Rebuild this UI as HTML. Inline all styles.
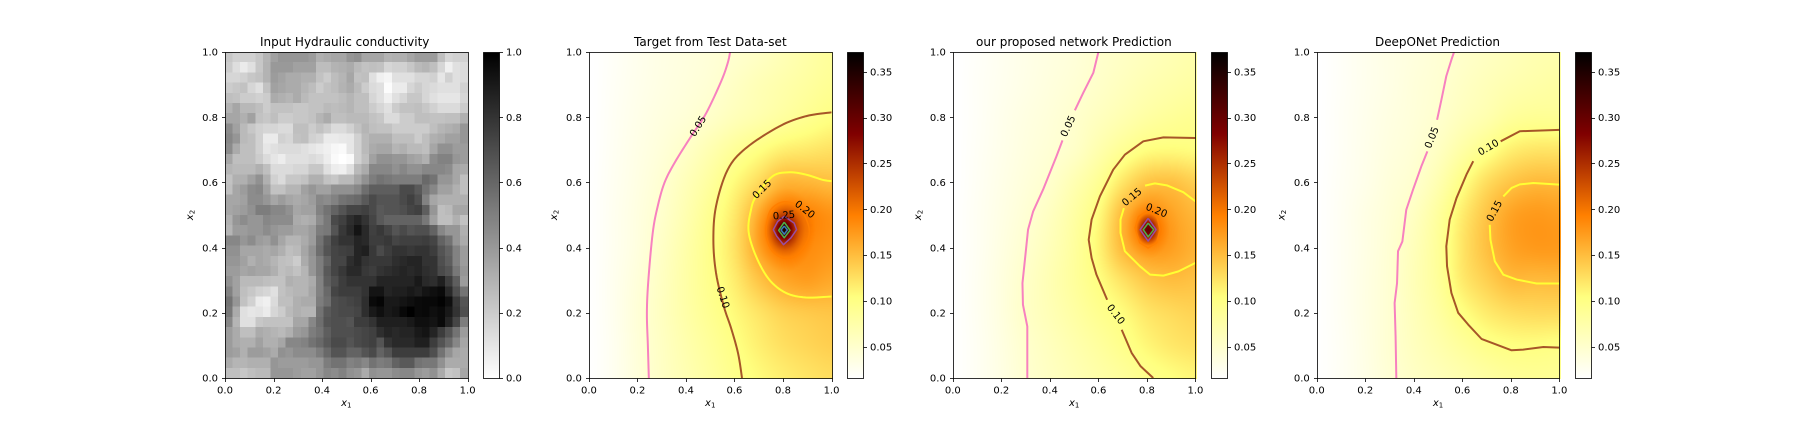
<!DOCTYPE html>
<html lang="en">
<head>
<meta charset="utf-8">
<title>Hydraulic conductivity predictions</title>
<style>
html,body{margin:0;padding:0;background:#fff;width:1800px;height:432px;overflow:hidden}
#figure{position:relative;width:1800px;height:432px;background:#fff;overflow:hidden;filter:blur(0.3px)}
#figure canvas{position:absolute;display:block}
#overlay{position:absolute;left:0;top:0}
text{font-family:"DejaVu Sans","Liberation Sans",sans-serif;fill:#000}
</style>
</head>
<body>
<div id="figure">
<svg id="overlay" width="1800" height="432" viewBox="0 0 1800 432" xmlns="http://www.w3.org/2000/svg"></svg>
</div>
<script>
// ---------- data ----------
const panelTitles = ["Input Hydraulic conductivity","Target from Test Data-set","our proposed network Prediction","DeepONet Prediction"];
const titleStarts = [260,634,976,1375];
const titleLengths = [169.4,152.7,195.7,125];
const axisTicks = [0,0.2,0.4,0.6,0.8,1.0];
const axisTickLabels = ["0.0","0.2","0.4","0.6","0.8","1.0"];
const grayBarTicks = [0,0.2,0.4,0.6,0.8,1.0];
const grayBarLabels = ["0.0","0.2","0.4","0.6","0.8","1.0"];
const fieldBarTicks = [0.05,0.10,0.15,0.20,0.25,0.30,0.35];
const fieldBarLabels = ["0.05","0.10","0.15","0.20","0.25","0.30","0.35"];
const fieldMin = 0.0158;
const fieldMax = 0.3715;
const levelColors = {"0.05":"#f781bf","0.10":"#a65628","0.15":"#ffff33","0.20":"#ff7f00","0.25":"#984ea3","0.30":"#4daf4a","0.35":"#377eb8"};

// conductivity in percent, top row first (y = 1 down to y = 0)
const conductivity = [
[22,18,18,18,22,29,37,41,41,41,41,39,31,33,35,35,41,43,35,35,35,30,31,31,35,39,39,39,25,16,18,18],
[20,13,8,12,22,30,40,40,40,37,37,37,26,26,30,31,33,27,24,25,24,16,18,18,22,27,29,25,16,6,12,14],
[16,16,18,22,24,30,39,36,33,33,31,31,24,20,26,29,35,24,25,12,6,4,12,12,12,16,16,18,10,18,12,14],
[20,22,24,16,12,24,37,35,33,33,29,26,20,24,26,30,33,27,20,14,12,1,8,8,16,20,16,14,12,12,12,18],
[25,24,20,20,18,20,33,31,29,33,27,24,24,24,24,26,29,25,25,16,12,6,12,16,22,22,16,12,10,10,10,16],
[30,35,28,28,25,20,24,24,24,22,22,24,24,27,26,27,29,25,25,20,16,12,20,24,24,25,22,18,14,14,14,20],
[35,35,31,37,24,22,25,20,20,22,22,24,29,33,25,25,27,27,27,24,22,14,14,20,20,25,25,24,24,25,25,31],
[45,37,27,22,18,16,16,14,14,25,25,20,24,20,14,14,18,24,29,25,24,24,20,20,20,20,20,25,29,31,33,41],
[47,41,27,25,18,8,8,18,16,24,25,18,16,8,8,9,10,18,27,31,31,31,25,25,25,20,25,31,33,37,37,41],
[45,33,25,25,18,10,12,14,14,14,12,10,8,6,3,2,10,18,27,33,35,35,29,31,27,27,25,35,43,43,39,39],
[35,25,25,25,20,14,10,7,12,12,12,14,12,7,2,0,2,18,25,37,43,43,41,41,37,35,31,45,49,49,41,39],
[29,27,27,27,31,25,14,14,14,16,16,22,22,12,7,6,12,27,33,47,47,47,43,47,43,43,47,47,47,45,35,33],
[24,31,31,37,43,31,18,14,22,22,24,31,31,24,22,27,27,35,43,51,55,53,51,51,51,51,59,55,41,41,35,25],
[25,35,39,45,47,37,24,24,29,29,37,41,37,37,43,43,43,47,57,63,63,63,63,71,71,65,55,47,37,37,31,25],
[35,35,37,45,45,41,35,39,35,33,35,39,47,45,49,55,57,59,65,71,67,67,67,71,75,69,49,35,31,31,31,31],
[35,37,39,43,51,51,47,47,43,35,37,37,49,55,61,67,73,73,75,71,65,67,67,69,73,75,63,41,25,27,35,35],
[31,41,45,41,41,47,45,45,45,33,31,33,45,53,71,75,82,86,80,73,65,61,61,61,61,61,53,37,25,25,31,24],
[29,39,39,41,41,45,41,39,39,35,35,39,51,53,67,78,84,92,84,75,78,73,67,71,67,69,69,61,47,41,41,31],
[47,47,41,45,39,37,43,35,29,29,33,39,55,65,75,80,80,86,84,76,76,78,73,75,75,75,76,73,61,55,41,33],
[43,43,35,35,35,33,35,31,25,27,35,43,57,67,73,75,76,86,88,78,71,76,80,80,78,80,80,76,67,61,49,39],
[41,41,37,31,35,33,29,25,24,20,33,41,51,61,73,73,82,86,80,78,78,78,82,84,86,86,80,80,69,63,49,39],
[39,39,35,37,35,35,31,25,27,24,29,41,51,65,73,78,84,84,78,76,80,82,84,86,84,86,82,80,71,67,53,41],
[43,37,27,27,27,25,24,24,31,29,29,33,49,63,69,76,80,80,80,80,86,86,86,86,86,90,84,82,88,76,63,39],
[49,37,25,22,18,16,12,24,27,29,29,35,49,59,73,76,76,76,80,92,92,86,88,88,90,88,92,94,96,84,69,55],
[55,41,24,18,8,6,14,25,25,31,33,33,51,57,69,71,73,75,82,96,98,90,90,92,94,96,97,97,99,94,78,67],
[53,33,12,10,11,8,16,20,27,31,29,29,55,65,69,71,71,73,82,90,94,90,92,97,100,96,97,94,96,90,80,69],
[47,29,12,12,22,24,24,24,24,35,35,47,57,67,69,69,67,76,76,80,88,88,88,88,90,94,94,92,96,86,73,51],
[39,33,25,25,33,31,29,27,31,39,41,51,55,63,69,69,69,71,73,75,82,86,84,86,86,90,92,86,76,67,55,39],
[39,33,31,31,37,31,31,35,47,47,49,55,59,65,71,71,67,71,73,75,67,80,84,84,84,88,88,76,67,59,47,35],
[39,37,31,39,39,37,33,43,41,45,45,45,51,59,67,67,61,61,67,71,61,67,76,76,76,76,76,69,55,43,35,33],
[33,29,29,31,31,31,41,39,39,39,39,41,41,51,55,55,49,51,47,55,51,53,61,65,65,55,53,53,43,33,33,33],
[25,25,22,25,27,27,41,41,41,39,37,37,41,47,45,49,43,41,33,43,41,41,45,47,47,41,39,43,33,22,24,35]
];

// field samples: rows y = 0, 0.1 ... 1; columns x = 0, 0.1 ... 1
const targetField = [
[.016,.026,.041,.056,.069,.082,.096,.107,.116,.123,.128],
[.016,.026,.042,.057,.072,.086,.101,.115,.126,.133,.138],
[.016,.027,.043,.059,.076,.092,.108,.123,.136,.142,.145],
[.016,.027,.041,.058,.077,.096,.117,.145,.165,.172,.165],
[.016,.026,.038,.055,.075,.097,.124,.165,.185,.185,.178],
[.016,.026,.037,.051,.070,.093,.12,.16,.185,.19,.18],
[.016,.025,.035,.047,.064,.083,.107,.130,.155,.155,.15],
[.015,.024,.033,.042,.054,.07,.087,.102,.115,.12,.125],
[.015,.023,.031,.038,.044,.053,.064,.073,.083,.093,.102],
[.015,.022,.029,.035,.040,.046,.056,.066,.074,.082,.09],
[.015,.021,.028,.034,.038,.043,.049,.056,.066,.076,.085]
];
const proposedField = [
[.016,.024,.035,.048,.058,.067,.076,.085,.096,.104,.11],
[.016,.024,.036,.05,.061,.072,.083,.096,.11,.12,.125],
[.016,.025,.038,.054,.066,.079,.093,.106,.122,.13,.135],
[.016,.025,.038,.053,.068,.084,.103,.125,.143,.15,.147],
[.016,.024,.036,.049,.064,.083,.111,.152,.168,.17,.158],
[.016,.024,.034,.045,.059,.079,.106,.152,.175,.168,.155],
[.015,.023,.032,.041,.051,.069,.09,.122,.145,.148,.138],
[.015,.022,.030,.038,.045,.054,.072,.09,.104,.107,.105],
[.015,.021,.029,.036,.042,.05,.06,.07,.08,.087,.092],
[.015,.021,.027,.033,.039,.045,.053,.061,.069,.075,.08],
[.015,.02,.026,.032,.037,.042,.05,.056,.062,.068,.074]
];
const deepOnetField = [
[.016,.023,.033,.045,.056,.064,.072,.08,.087,.09,.09],
[.016,.023,.034,.047,.06,.072,.085,.097,.103,.104,.102],
[.016,.024,.035,.047,.063,.08,.102,.118,.127,.13,.13],
[.016,.024,.035,.047,.065,.086,.118,.137,.152,.152,.153],
[.016,.024,.034,.046,.063,.087,.122,.148,.168,.175,.175],
[.016,.024,.034,.044,.058,.083,.117,.145,.168,.175,.172],
[.016,.023,.031,.041,.05,.07,.10,.128,.145,.153,.152],
[.015,.022,.03,.038,.045,.058,.078,.097,.115,.122,.122],
[.015,.022,.029,.036,.042,.05,.062,.072,.085,.09,.09],
[.015,.021,.028,.034,.041,.047,.056,.064,.071,.076,.08],
[.015,.021,.028,.034,.039,.045,.052,.058,.064,.07,.073]
];

// sharp well response: extra value against distance from the well
const wellLocation = [0.805,0.455];
const targetWellRadius = [0,.012,.025,.045,.065,.085,.13];
const targetWellGain = [.17,.15,.10,.055,.028,.012,0];
const proposedWellRadius = [0,.015,.032,.05,.09,.13];
const proposedWellGain = [.13,.11,.065,.02,.004,0];

// contour lines: level, then runs of [x, y] in data coordinates
const targetContours = [
["0.05",[[.247,0],[.243,.1],[.239,.2],[.245,.3],[.263,.445],[.283,.525],[.311,.598],[.353,.66],[.421,.741],[.483,.812],[.545,.91],[.572,.966],[.582,1]]],
["0.10",[[.631,0],[.615,.075],[.586,.153],[.556,.22],[.524,.322],[.513,.424],[.524,.527],[.572,.639],[.647,.705],[.785,.772],[.894,.803],[1,.815]]],
["0.15",[[1,.25],[.894,.247],[.812,.261],[.743,.302],[.689,.373],[.658,.45],[.668,.516],[.689,.557],[.757,.619],[.826,.631],[.894,.624],[.963,.608],[1,.604]]],
["0.20",[[.73,.46],[.745,.51],[.78,.535],[.82,.54],[.865,.525],[.9,.48],[.908,.44],[.885,.40],[.845,.372],[.80,.368],[.755,.39],[.733,.43],[.73,.46]]],
["0.25",[[.805,.496],[.846,.475],[.856,.455],[.833,.43],[.802,.409],[.774,.435],[.76,.455],[.778,.48],[.805,.496]]],
["0.30",[[.805,.478],[.829,.453],[.805,.43],[.782,.453],[.805,.478]]],
["0.35",[[.805,.466],[.818,.454],[.805,.441],[.792,.454],[.805,.466]]]
];
const proposedContours = [
["0.05",[[.307,0],[.307,.158],[.289,.225],[.287,.291],[.30,.383],[.31,.455],[.331,.511],[.372,.578],[.427,.68],[.452,.729]]],
["0.05",[[.503,.821],[.537,.874],[.579,.936],[.60,1]]],
["0.10",[[.826,0],[.774,.036],[.737,.077],[.696,.148]]],
["0.10",[[.636,.24],[.592,.317],[.572,.368],[.56,.424],[.572,.486],[.606,.557],[.661,.639],[.709,.685],[.785,.726],[.868,.738],[1,.736]]],
["0.15",[[1,.353],[.93,.327],[.868,.314],[.813,.317],[.771,.343],[.709,.389],[.691,.445],[.691,.486],[.705,.521]]],
["0.15",[[.792,.59],[.833,.597],[.882,.591],[.95,.57],[1,.542]]],
["0.20",[[.751,.46],[.765,.495],[.805,.515],[.84,.5],[.854,.455],[.84,.415],[.805,.399],[.77,.415],[.751,.46]]],
["0.25",[[.805,.49],[.838,.455],[.805,.42],[.772,.455],[.805,.49]]],
["0.30",[[.805,.475],[.828,.455],[.805,.433],[.785,.455],[.805,.475]]]
];
const deepOnetContours = [
["0.05",[[.328,0],[.325,.128],[.321,.23],[.331,.291],[.335,.389],[.353,.419],[.369,.516],[.397,.578],[.431,.649],[.456,.695]]],
["0.05",[[.496,.792],[.514,.854],[.534,.926],[.555,.976],[.566,1]]],
["0.10",[[1,.093],[.934,.095],[.851,.087],[.803,.085],[.679,.12],[.624,.164],[.583,.2],[.555,.261],[.537,.343],[.534,.404],[.548,.486],[.576,.552],[.617,.624],[.645,.665]]],
["0.10",[[.758,.726],[.837,.757],[1,.761]]],
["0.15",[[1,.29],[.906,.29],[.824,.302],[.769,.317],[.734,.358],[.716,.424],[.713,.47]]],
["0.15",[[.769,.557],[.803,.583],[.837,.594],[.893,.598],[1,.593]]]
];

// contour labels: text, x, y in data coordinates, rotation in degrees
const targetLabels = [["0.05",.4485,.773,-58],["0.10",.554,.2475,72],["0.15",.712,.58,-45],["0.20",.891,.518,38],["0.25",.804,.5,-5]];
const proposedLabels = [["0.05",.4736,.773,-65],["0.10",.673,.196,52],["0.15",.737,.556,-40],["0.20",.84,.515,22]];
const deepOnetLabels = [["0.05",.473,.738,-68],["0.10",.707,.708,-30],["0.15",.731,.513,-62]];

// ---------- layout ----------
const axisLefts = [225,588.91,952.83,1316.74];
const axisWidth = 242.62;
const axisTop = 52;
const axisBottom = 378;
const axisHeight = axisBottom - axisTop;
const barOffset = 257.81;
const barWidth = 16.3;
const NS = "http://www.w3.org/2000/svg";
const svg = document.getElementById("overlay");
const figure = document.getElementById("figure");
const defs = document.createElementNS(NS,"defs");
svg.appendChild(defs);

function make(tag,attrs,parent){
  const n = document.createElementNS(NS,tag);
  for(const k in attrs){ n.setAttribute(k,attrs[k]); }
  (parent||svg).appendChild(n);
  return n;
}
function snap(p){ return Math.round(p)+0.5; }
function afmhotR(v){
  const n = Math.min(1,Math.max(0,(v-fieldMin)/(fieldMax-fieldMin)));
  const t = 1-n;
  const c = x => Math.round(255*Math.min(1,Math.max(0,x)));
  return [c(2*t),c(2*t-0.5),c(2*t-1)];
}
function catmull(a,b,c,d,t){
  return 0.5*((2*b)+(-a+c)*t+(2*a-5*b+4*c-d)*t*t+(-a+3*b-3*c+d)*t*t*t);
}
function sampleGrid(g,x,y){
  const n = g.length-1;
  const m = g[0].length-1;
  const u = Math.min(m-1e-6,Math.max(0,x*m));
  const w = Math.min(n-1e-6,Math.max(0,y*n));
  const i = Math.floor(u), j = Math.floor(w);
  const tx = u-i, ty = w-j;
  const col = k => Math.min(m,Math.max(0,k));
  const row = k => Math.min(n,Math.max(0,k));
  const vals = [];
  for(let q=-1;q<=2;q++){
    const r = g[row(j+q)];
    vals.push(catmull(r[col(i-1)],r[col(i)],r[col(i+1)],r[col(i+2)],tx));
  }
  return catmull(vals[0],vals[1],vals[2],vals[3],ty);
}
function wellGain(rs,gs,r){
  for(let k=0;k<rs.length-1;k++){
    if(r<=rs[k+1]){
      const f = (r-rs[k])/(rs[k+1]-rs[k]);
      return gs[k]+(gs[k+1]-gs[k])*f;
    }
  }
  return 0;
}
function smoothRun(run){
  const out = [];
  const at = k => run[Math.min(run.length-1,Math.max(0,k))];
  for(let i=0;i<run.length-1;i++){
    for(let s=0;s<8;s++){
      const t = s/8;
      out.push([catmull(at(i-1)[0],at(i)[0],at(i+1)[0],at(i+2)[0],t),catmull(at(i-1)[1],at(i)[1],at(i+1)[1],at(i+2)[1],t)]);
    }
  }
  out.push(run[run.length-1]);
  return out;
}

function drawField(canvasName,left,grid,radii,gains){
  const c0 = Math.round(left);
  const w = Math.round(axisWidth)+1;
  const h = axisHeight+1;
  const cv = document.createElement("canvas");
  
  
  cv.width = w; cv.height = h;
  cv.style.left = c0+"px";
  cv.style.top = axisTop+"px";
  figure.insertBefore(cv,svg);
  const ctx = cv.getContext("2d");
  const img = ctx.createImageData(w,h);
  for(let py=0;py<h;py++){
    for(let px=0;px<w;px++){
      const x = (c0+px+0.5-left)/axisWidth;
      const y = (axisBottom-(axisTop+py+0.5))/axisHeight;
      let v = sampleGrid(grid,x,y);
      if(radii){
        const dx = x-wellLocation[0], dy = y-wellLocation[1];
        v += wellGain(radii,gains,Math.sqrt(dx*dx+dy*dy));
      }
      const rgb = afmhotR(v);
      const o = (py*w+px)*4;
      img.data[o]=rgb[0]; img.data[o+1]=rgb[1]; img.data[o+2]=rgb[2]; img.data[o+3]=255;
    }
  }
  ctx.putImageData(img,0,0);
}

// ---------- conductivity heatmap cells ----------
const cellGroup = make("g",{"shape-rendering":"crispEdges"});


conductivity.forEach((rowVals,r)=>{
  rowVals.forEach((val,c)=>{
    const x0 = axisLefts[0]+c/rowVals.length*axisWidth;
    const x1 = axisLefts[0]+(c+1)/rowVals.length*axisWidth;
    const y0 = axisTop+r/conductivity.length*axisHeight;
    const y1 = axisTop+(r+1)/conductivity.length*axisHeight;
    const g = Math.round(255*(1-val/100));
    const cell = make("rect",{x:x0,y:y0,width:x1-x0+0.5,height:y1-y0+0.5,fill:"rgb("+g+","+g+","+g+")"},cellGroup);
    
    
  });
});

// ---------- fields ----------
drawField("target-field-image",axisLefts[1],targetField,targetWellRadius,targetWellGain);
drawField("proposed-field-image",axisLefts[2],proposedField,proposedWellRadius,proposedWellGain);
drawField("deeponet-field-image",axisLefts[3],deepOnetField,null,null);

// ---------- contours ----------
function drawContours(panelIndex,contours,labels,smooth){
  const left = axisLefts[panelIndex];
  const clipId = "clip"+panelIndex;
  const clip = make("clipPath",{id:clipId},defs);
  make("rect",{x:left,y:axisTop,width:axisWidth,height:axisHeight},clip);
  contours.forEach(entry=>{
    const curved = smooth && entry[1].length>9;
    const run = curved ? smoothRun(entry[1]) : entry[1];
    const thick = entry[0]==="0.05"||entry[0]==="0.10"||entry[0]==="0.15";
    const pts = run.map(p=>(left+p[0]*axisWidth).toFixed(2)+","+(axisBottom-p[1]*axisHeight).toFixed(2)).join(" ");
    const line = make("polyline",{points:pts,fill:"none",stroke:levelColors[entry[0]],"stroke-width":thick?2:1.5,"stroke-linejoin":"round","clip-path":"url(#"+clipId+")"});
    
    
  });
  labels.forEach(entry=>{
    const lx = left+entry[1]*axisWidth;
    const ly = axisBottom-entry[2]*axisHeight;
    const t = make("text",{x:lx,y:ly+3.6,"font-size":10,"text-anchor":"middle",transform:"rotate("+entry[3]+" "+lx+" "+ly+")"});
    
    
    t.textContent = entry[0];
  });
}
drawContours(1,targetContours,targetLabels,true);
drawContours(2,proposedContours,proposedLabels,false);
drawContours(3,deepOnetContours,deepOnetLabels,false);

// ---------- axes ----------
function tickLine(x1,y1,x2,y2,name){
  const l = make("line",{x1:x1,y1:y1,x2:x2,y2:y2,stroke:"#000","stroke-width":0.8});
  
  
}
axisLefts.forEach((left,idx)=>{
  const frameL = snap(left), frameR = snap(left+axisWidth);
  const frame = make("rect",{x:frameL,y:axisTop+0.5,width:frameR-frameL,height:axisHeight,fill:"none",stroke:"#000","stroke-width":0.8});
  
  

  const title = make("text",{x:titleStarts[idx],y:46,"font-size":12,textLength:titleLengths[idx],lengthAdjust:"spacing"});
  
  
  title.textContent = panelTitles[idx];

  axisTicks.forEach((tv,i)=>{
    const px = snap(left+tv*axisWidth);
    tickLine(px,axisBottom+0.5,px,axisBottom+4,'x-tick');
    const xl = make("text",{x:left+tv*axisWidth,y:393.3,"font-size":10,"text-anchor":"middle"});
    
    
    xl.textContent = axisTickLabels[i];

    const py = snap(axisBottom-tv*axisHeight);
    tickLine(frameL-3.5,py,frameL,py,'y-tick');
    const yl = make("text",{x:left-7,y:axisBottom-tv*axisHeight+3.7,"font-size":10,"text-anchor":"end"});
    
    
    yl.textContent = axisTickLabels[i];
  });

  const xTitle = make("text",{x:left+axisWidth/2,y:406,"font-size":10,"text-anchor":"middle"});
  
  
  const xi = make("tspan",{"font-style":"italic"},xTitle);
  xi.textContent = "x";
  const xs = make("tspan",{"font-size":7,dy:1.5},xTitle);
  xs.textContent = "1";

  const yPos = left-32;
  const yMid = axisTop+axisHeight/2;
  const yTitle = make("text",{x:yPos,y:yMid,"font-size":10,"text-anchor":"middle",transform:"rotate(-90 "+yPos+" "+yMid+")"});
  
  
  const yi = make("tspan",{"font-style":"italic"},yTitle);
  yi.textContent = "x";
  const ys = make("tspan",{"font-size":7,dy:1.5},yTitle);
  ys.textContent = "2";

  // colour bar
  const barL = left+barOffset;
  const gradId = "bar"+idx;
  const grad = make("linearGradient",{id:gradId,x1:0,y1:1,x2:0,y2:0},defs);
  const steps = 64;
  for(let s=0;s<=steps;s++){
    const f = s/steps;
    let col;
    if(idx===0){
      const g = Math.round(255*(1-f));
      col = [g,g,g];
    }else{
      col = afmhotR(fieldMin+f*(fieldMax-fieldMin));
    }
    make("stop",{offset:f,"stop-color":"rgb("+col.join(",")+")"},grad);
  }
  const bL = snap(barL), bR = snap(barL+barWidth);
  const bar = make("rect",{x:bL,y:axisTop+0.5,width:bR-bL,height:axisHeight,fill:"url(#"+gradId+")",stroke:"#000","stroke-width":0.8});
  
  
  const ticks = idx===0?grayBarTicks:fieldBarTicks;
  const labs = idx===0?grayBarLabels:fieldBarLabels;
  const lo = idx===0?0:fieldMin;
  const hi = idx===0?1:fieldMax;
  ticks.forEach((tv,i)=>{
    const yp = axisBottom-(tv-lo)/(hi-lo)*axisHeight;
    tickLine(bR,snap(yp),bR+3.5,snap(yp),'colorbar-tick');
    const bl = make("text",{x:bR+6.5,y:yp+3.7,"font-size":10});
    
    
    bl.textContent = labs[i];
  });
});
</script>
</body>
</html>
